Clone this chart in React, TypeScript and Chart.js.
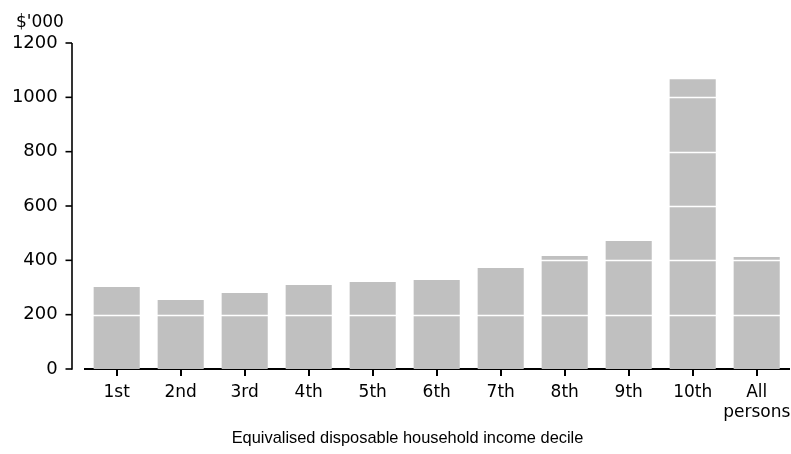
import React, { useEffect, useRef } from "react";
import { Chart, registerables } from "chart.js";

Chart.register(...registerables);

const categories: (string | string[])[] = ["1st", "2nd", "3rd", "4th", "5th", "6th", "7th", "8th", "9th", "10th", ["All", "persons"]];
const values: number[] = [302, 254, 280, 309, 320, 328, 372, 416, 471, 1067, 412];
const yTicks: number[] = [0, 200, 400, 600, 800, 1000, 1200];
const unitLabel = "$'000";
const xTitle = "Equivalised disposable household income decile";

const TICK_FONT = "'DejaVu Sans', sans-serif";
const TITLE_FONT = "'Liberation Sans', Arial, sans-serif";

const overlayPlugin = {
  id: "overlay",
  afterDatasetsDraw(chart: any) {
    const { ctx, chartArea, scales } = chart;
    const y = scales.y;
    ctx.save();
    // white gridlines over bars
    ctx.strokeStyle = "#ffffff";
    ctx.lineWidth = 1.5;
    yTicks.forEach((t) => {
      if (t === 0 || t === 1200) return;
      const py = Math.round(y.getPixelForValue(t)) + 0.5;
      ctx.beginPath();
      ctx.moveTo(chartArea.left, py);
      ctx.lineTo(chartArea.right, py);
      ctx.stroke();
    });
    // y axis line
    const ax = 72;
    ctx.strokeStyle = "#000000";
    ctx.lineWidth = 1.6;
    ctx.beginPath();
    ctx.moveTo(ax, y.getPixelForValue(1200));
    ctx.lineTo(ax, y.getPixelForValue(0) + 0.8);
    ctx.stroke();
    yTicks.forEach((t) => {
      const py = y.getPixelForValue(t);
      ctx.beginPath();
      ctx.moveTo(65.5, py);
      ctx.lineTo(ax, py);
      ctx.stroke();
    });
    // unit label
    ctx.fillStyle = "#000000";
    ctx.font = `17px ${TICK_FONT}`;
    ctx.textAlign = "left";
    ctx.textBaseline = "middle";
    ctx.fillText(unitLabel, 16, 23);
    // x title
    ctx.font = `16.4px ${TITLE_FONT}`;
    ctx.textAlign = "center";
    ctx.fillText(xTitle, 407.5, 438);
    ctx.restore();
  },
};

export default function App() {
  const ref = useRef<HTMLCanvasElement | null>(null);
  useEffect(() => {
    if (!ref.current) return;
    const chart = new Chart(ref.current, {
      type: "bar",
      data: {
        labels: categories,
        datasets: [
          {
            data: values,
            backgroundColor: "#c0c0c0",
            borderWidth: 0,
            barPercentage: 0.72,
            categoryPercentage: 1,
          },
        ],
      },
      options: {
        animation: false,
        responsive: true,
        maintainAspectRatio: false,
        layout: { padding: { left: 0, right: 2.3, top: 43, bottom: 0 } },
        plugins: { legend: { display: false }, tooltip: { enabled: false }, title: { display: false } },
        scales: {
          x: {
            grid: {
              display: true,
              drawOnChartArea: false,
              drawTicks: true,
              tickLength: 7,
              color: "#000000",
              lineWidth: 2,
              offset: false,
            },
            border: { display: true, color: "#000000", width: 2 },
            ticks: {
              color: "#000000",
              font: { family: TICK_FONT, size: 17 },
              padding: 6,
              maxRotation: 0,
              autoSkip: false,
            },
            afterFit: (s: any) => {
              s.height = 85;
              s.paddingLeft = 0;
              s.paddingRight = 0;
            },
          },
          y: {
            min: 0,
            max: 1200,
            grid: { display: false, drawTicks: false, tickLength: 0 },
            border: { display: false },
            ticks: {
              stepSize: 200,
              color: "#000000",
              font: { family: TICK_FONT, size: 18 },
              padding: 27,
              callback: (v: any) => String(v),
            },
            afterFit: (s: any) => {
              s.width = 84.7;
              s.paddingTop = 0;
              s.paddingBottom = 0;
            },
          },
        },
      },
      plugins: [overlayPlugin],
    });
    return () => chart.destroy();
  }, []);
  return (
    <div style={{ position: "fixed", left: 0, top: 0, width: 791, height: 454, background: "#ffffff" }}>
      <canvas ref={ref} />
    </div>
  );
}
